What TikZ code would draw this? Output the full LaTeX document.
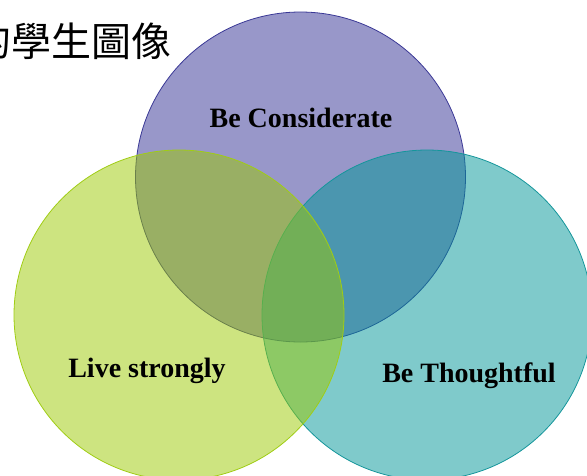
\documentclass[tikz,border=0pt]{standalone}
\usepackage{fontspec}
\setmainfont{Liberation Serif}
\newfontfamily\cjkfont{Noto Sans CJK TC}
\definecolor{purpbase}{RGB}{49,47,147}
\definecolor{purpline}{RGB}{58,56,150}
\definecolor{tealbase}{RGB}{0,149,151}
\definecolor{tealline}{RGB}{20,150,155}
\definecolor{greenbase}{RGB}{155,201,1}
\definecolor{greenline}{RGB}{160,205,20}
\begin{document}
\begin{tikzpicture}[x=1pt,y=-1pt,
  venn/.style={circle, minimum size=330pt, inner sep=0pt, line width=0.8pt, fill opacity=0.5, draw opacity=1},
  lbl/.style={font=\fontsize{28}{30}\selectfont\bfseries, inner sep=0pt, anchor=base, text=black},
  title/.style={font=\cjkfont\fontsize{40}{44}\selectfont, inner sep=0pt, anchor=west, text=black}]
\useasboundingbox (0,0) rectangle (587,475);
\clip (0,0) rectangle (587,475);
\node[venn, draw=purpline, fill=purpbase] (cons) at (300.5,177) {};
\node[venn, draw=tealline, fill=tealbase] (thou) at (427,315) {};
\node[venn, draw=greenline, fill=greenbase] (live) at (179,315) {};
\node[lbl] (tcons) at (301,127) {Be Considerate};
\node[lbl] (tlive) at (147,377) {Live strongly};
\node[lbl] (tthou) at (469,382) {Be Thoughtful};
\node[title] (head) at (-29,41.5) {的學生圖像};
\end{tikzpicture}
\end{document}
